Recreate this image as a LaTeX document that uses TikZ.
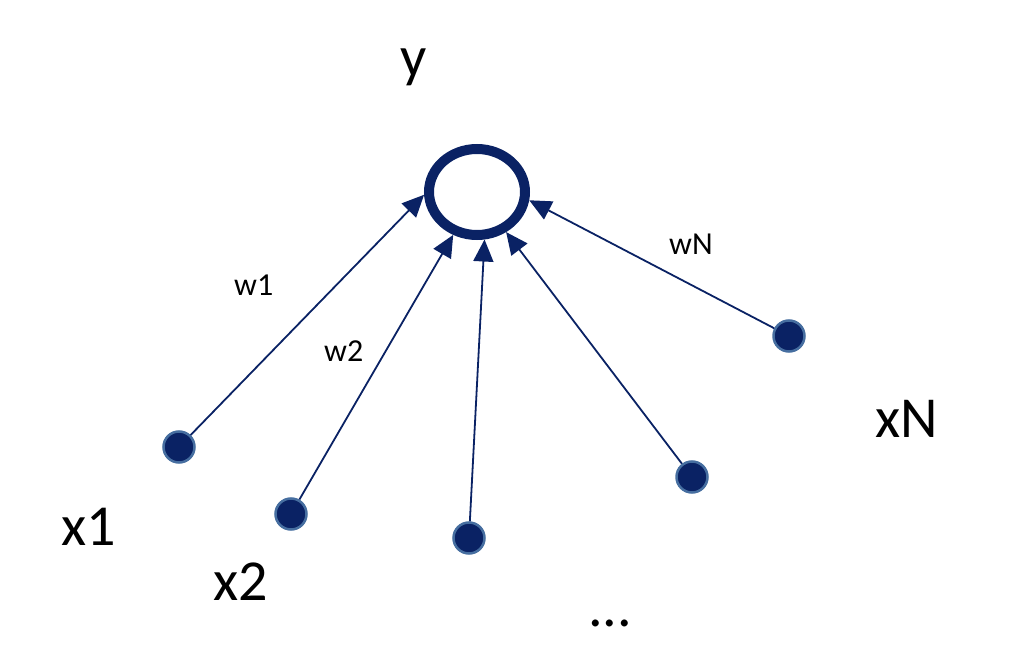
\documentclass[tikz,border=0pt]{standalone}
\usepackage{fontspec}
\setmainfont{Carlito}
\usetikzlibrary{shapes.geometric,arrows.meta}
\definecolor{navy}{RGB}{10,34,100}
\definecolor{ringblue}{RGB}{70,110,160}
\tikzset{
  unit/.style={ellipse,draw=navy,line width=10pt,minimum width=96pt,minimum height=86pt,inner sep=0pt},
  inp/.style={circle,fill=navy,draw=ringblue,line width=2.5pt,minimum size=31pt,inner sep=0pt},
  conn/.style={draw=navy,line width=1.8pt,-{Triangle[length=22pt,width=20pt]}},
  big/.style={inner sep=0pt,anchor=base west,font=\fontsize{58pt}{64pt}\selectfont},
  small/.style={inner sep=0pt,anchor=base west,font=\fontsize{32pt}{36pt}\selectfont}
}
\begin{document}
\begin{tikzpicture}[x=1pt,y=-1pt]
\useasboundingbox (0,0) rectangle (1010,660);
\node[unit] (c) at (477,192) {};
\node[inp] (d1) at (179,447) {};
\node[inp] (d2) at (291,514) {};
\node[inp] (d3) at (469,538) {};
\node[inp] (d4) at (692,477) {};
\node[inp] (dN) at (789,336) {};
\draw[conn] (d1) -- (c.183);
\draw[conn] (d2) -- (c.241);
\draw[conn] (d3) -- (c.279);
\draw[conn] (d4) -- (c.306);
\draw[conn] (dN) -- (c.351);
\node[big] (ly) at (400,77) {y};
\node[small] (lw1) at (234,296) {w1};
\node[small] (lw2) at (324,362) {w2};
\node[small] (lwN) at (669,255) {wN};
\node[big] (lx1) at (61,545) {x1};
\node[big] (lx2) at (213,600) {x2};
\node[big] (lxN) at (875,438) {xN};
\node[big] (ldots) at (588,626) {...};
\end{tikzpicture}
\end{document}
